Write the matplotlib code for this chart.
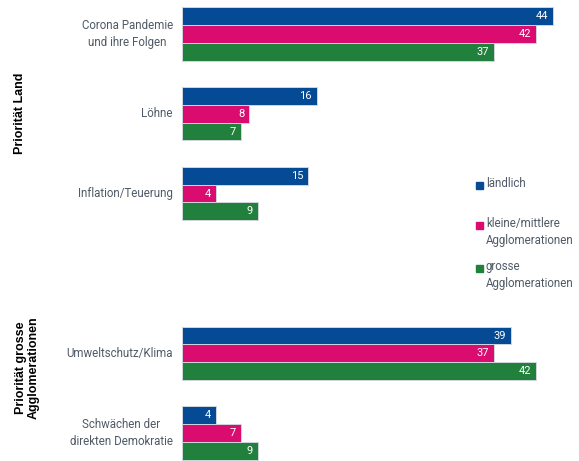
import matplotlib
matplotlib.use("Agg")
import matplotlib.pyplot as plt
from matplotlib.patches import Rectangle
import numpy as np

categories = ["Corona Pandemie\nund ihre Folgen", "Löhne", "Inflation/Teuerung",
              "Umweltschutz/Klima", "Schwächen der\ndirekten Demokratie"]
slots = [0, 1, 2, 4, 5]
series_names = ["ländlich", "kleine/mittlere\nAgglomerationen", "grosse\nAgglomerationen"]
laendlich = [44, 16, 15, 39, 4]
kleine = [42, 8, 4, 37, 7]
grosse = [37, 7, 9, 42, 9]
colors = ["#054a94", "#db0c70", "#21803b"]
group_labels = ["Priorität Land", "Priorität grosse\nAgglomerationen"]

W, H = 579, 461
fig = plt.figure(figsize=(W / 100, H / 100), dpi=100)
ax = fig.add_axes([182 / W, 0, (560 - 182) / W, 1])
ax.set_xlim(0, (560 - 182) / 8.43)
ax.set_ylim(5.35, -0.426)
ax.axis("off")

bh = 0.222
series = [laendlich, kleine, grosse]
txtcol = "#4f5a66"
for i, (vals, col) in enumerate(zip(series, colors)):
    y = np.array(slots) + (i - 1) * bh
    bars = ax.barh(y, vals, height=bh, color=col, edgecolor="#cfd6de", linewidth=0.7)
    for b, v in zip(bars, vals):
        ax.annotate(str(v), (b.get_width(), b.get_y() + b.get_height() / 2),
                    xytext=(-5, 0), textcoords="offset pixels", ha="right", va="center",
                    color="white", fontsize=8, family="Roboto")

for s, c in zip(slots, categories):
    ax.annotate(c, (0, s), xytext=(-9, 0), textcoords="offset pixels",
                ha="right", va="center", multialignment="center", color=txtcol,
                fontsize=8.3, family="Roboto", linespacing=1.4)

fig.text(20 / W, 1 - 113 / H, group_labels[0], rotation=90, ha="center", va="center",
         fontsize=9, fontweight="bold", family="Liberation Sans", color="black")
fig.text(27 / W, 1 - 368 / H, group_labels[1], rotation=90, ha="center", va="center",
         fontsize=9, fontweight="bold", family="Liberation Sans", color="black",
         linespacing=1.1)

leg_y = [185, 225, 268]
for name, col, yy in zip(series_names, colors, leg_y):
    fig.patches.append(Rectangle((476 / W, 1 - (yy + 3.5) / H), 7 / W, 7 / H,
                                 transform=fig.transFigure, color=col))
    fig.text(486 / W, 1 - (yy - 8) / H, name, ha="left", va="top", fontsize=8.3,
             family="Roboto", color=txtcol, linespacing=1.35)

fig.savefig("out.png", dpi=100)
